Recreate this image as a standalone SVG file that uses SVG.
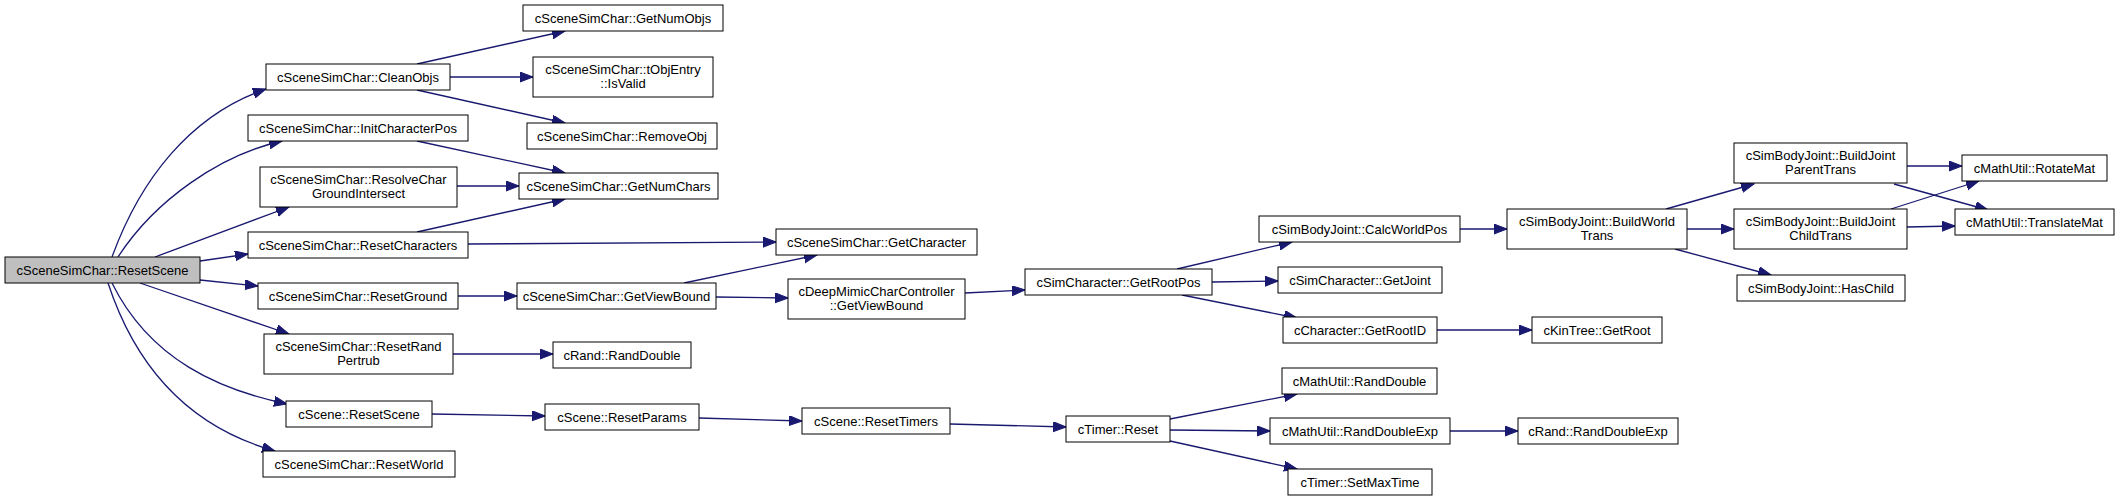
<svg xmlns="http://www.w3.org/2000/svg" width="2123" height="501" viewBox="0 0 2123 501">
<style>
.n rect{fill:#fff;stroke:#000;stroke-width:1}
.root rect{fill:#bfbfbf}
text{font-family:"Liberation Sans",Arial,sans-serif;font-size:13px;fill:#000;text-anchor:middle}
.e path{fill:none;stroke:#191970;stroke-width:1.3;marker-end:url(#a)}
</style>
<defs>
<marker id="a" markerUnits="userSpaceOnUse" markerWidth="14" markerHeight="11" refX="13" refY="5" orient="auto" viewBox="0 0 14 11">
<path d="M0,0 L13,5 L0,10 z" fill="#191970" stroke="#191970" stroke-width="1"/>
</marker>
</defs>
<rect width="2123" height="501" fill="#fff"/>
<g id="edges" class="e">
<path d="M112,257 C140,180 190,115 266,89"/>
<path d="M118,257 C155,200 220,155 282,141"/>
<path d="M155,257 L289,207"/>
<path d="M200,261 L248,254"/>
<path d="M200,280 L258,286"/>
<path d="M140,283 L289,334"/>
<path d="M112,283 C150,360 220,390 287,404"/>
<path d="M108,283 C140,380 200,430 275,451"/>
<path d="M417,64 L565,31"/>
<path d="M450,77 L533,77"/>
<path d="M417,90 L565,123"/>
<path d="M417,141 L565,173"/>
<path d="M457,186 L519,186"/>
<path d="M417,232 L565,199"/>
<path d="M468,244 L776,242"/>
<path d="M458,296 L517,296"/>
<path d="M684,283 L817,255"/>
<path d="M716,297 L788,298"/>
<path d="M453,354 L553,354"/>
<path d="M432,414 L545,416"/>
<path d="M699,418 L802,421"/>
<path d="M950,424 L1066,427"/>
<path d="M965,293 L1025,290"/>
<path d="M1177,269 L1292,242"/>
<path d="M1212,282 L1278,281"/>
<path d="M1182,295 L1297,318"/>
<path d="M1437,330 L1532,330"/>
<path d="M1460,229 L1507,229"/>
<path d="M1666,209 L1754,184"/>
<path d="M1687,229 L1734,229"/>
<path d="M1675,249 L1771,275"/>
<path d="M1907,166 L1962,166"/>
<path d="M1894,184 L1988,210"/>
<path d="M1891,209 L1979,181"/>
<path d="M1907,227 L1955,226"/>
<path d="M1170,419 L1297,394"/>
<path d="M1170,430 L1270,431"/>
<path d="M1170,441 L1297,469"/>
<path d="M1450,431 L1518,431"/>
</g>
<g id="n_root" class="n root"><rect x="5" y="257" width="195" height="26"/><text x="102.5" y="274.5">cSceneSimChar::ResetScene</text></g>
<g id="n_cleanobjs" class="n"><rect x="266" y="64" width="184" height="26"/><text x="358" y="81.5">cSceneSimChar::CleanObjs</text></g>
<g id="n_initcharpos" class="n"><rect x="248" y="115" width="220" height="26"/><text x="358" y="132.5">cSceneSimChar::InitCharacterPos</text></g>
<g id="n_resolvechar" class="n"><rect x="260" y="167" width="197" height="40"/><text x="358.5" y="183.5">cSceneSimChar::ResolveChar</text><text x="358.5" y="197.5">GroundIntersect</text></g>
<g id="n_resetchars" class="n"><rect x="248" y="232" width="220" height="26"/><text x="358" y="249.5">cSceneSimChar::ResetCharacters</text></g>
<g id="n_resetground" class="n"><rect x="258" y="283" width="200" height="26"/><text x="358" y="300.5">cSceneSimChar::ResetGround</text></g>
<g id="n_resetrand" class="n"><rect x="264" y="334" width="189" height="40"/><text x="358.5" y="350.5">cSceneSimChar::ResetRand</text><text x="358.5" y="364.5">Pertrub</text></g>
<g id="n_sceneresetscene" class="n"><rect x="286" y="401" width="146" height="26"/><text x="359" y="418.5">cScene::ResetScene</text></g>
<g id="n_resetworld" class="n"><rect x="263" y="451" width="192" height="26"/><text x="359" y="468.5">cSceneSimChar::ResetWorld</text></g>
<g id="n_getnumobjs" class="n"><rect x="523" y="5" width="200" height="26"/><text x="623" y="22.5">cSceneSimChar::GetNumObjs</text></g>
<g id="n_isvalid" class="n"><rect x="533" y="57" width="180" height="40"/><text x="623" y="73.5">cSceneSimChar::tObjEntry</text><text x="623" y="87.5">::IsValid</text></g>
<g id="n_removeobj" class="n"><rect x="527" y="123" width="190" height="26"/><text x="622" y="140.5">cSceneSimChar::RemoveObj</text></g>
<g id="n_getnumchars" class="n"><rect x="519" y="173" width="199" height="26"/><text x="618.5" y="190.5">cSceneSimChar::GetNumChars</text></g>
<g id="n_getcharacter" class="n"><rect x="776" y="229" width="201" height="26"/><text x="876.5" y="246.5">cSceneSimChar::GetCharacter</text></g>
<g id="n_getviewbound" class="n"><rect x="517" y="283" width="199" height="26"/><text x="616.5" y="300.5">cSceneSimChar::GetViewBound</text></g>
<g id="n_randdouble" class="n"><rect x="553" y="342" width="138" height="26"/><text x="622" y="359.5">cRand::RandDouble</text></g>
<g id="n_resetparams" class="n"><rect x="545" y="404" width="154" height="26"/><text x="622" y="421.5">cScene::ResetParams</text></g>
<g id="n_deepmimic" class="n"><rect x="788" y="279" width="177" height="40"/><text x="876.5" y="295.5">cDeepMimicCharController</text><text x="876.5" y="309.5">::GetViewBound</text></g>
<g id="n_resettimers" class="n"><rect x="802" y="408" width="148" height="26"/><text x="876" y="425.5">cScene::ResetTimers</text></g>
<g id="n_getrootpos" class="n"><rect x="1025" y="269" width="187" height="26"/><text x="1118.5" y="286.5">cSimCharacter::GetRootPos</text></g>
<g id="n_timerreset" class="n"><rect x="1066" y="416" width="104" height="26"/><text x="1118" y="433.5">cTimer::Reset</text></g>
<g id="n_calcworldpos" class="n"><rect x="1259" y="216" width="201" height="26"/><text x="1359.5" y="233.5">cSimBodyJoint::CalcWorldPos</text></g>
<g id="n_getjoint" class="n"><rect x="1278" y="267" width="164" height="26"/><text x="1360" y="284.5">cSimCharacter::GetJoint</text></g>
<g id="n_getrootid" class="n"><rect x="1283" y="317" width="154" height="26"/><text x="1360" y="334.5">cCharacter::GetRootID</text></g>
<g id="n_mathranddouble" class="n"><rect x="1282" y="368" width="155" height="26"/><text x="1359.5" y="385.5">cMathUtil::RandDouble</text></g>
<g id="n_randdoubleexp" class="n"><rect x="1270" y="418" width="180" height="26"/><text x="1360" y="435.5">cMathUtil::RandDoubleExp</text></g>
<g id="n_setmaxtime" class="n"><rect x="1288" y="469" width="144" height="26"/><text x="1360" y="486.5">cTimer::SetMaxTime</text></g>
<g id="n_getroot" class="n"><rect x="1532" y="317" width="130" height="26"/><text x="1597" y="334.5">cKinTree::GetRoot</text></g>
<g id="n_buildworldtrans" class="n"><rect x="1507" y="209" width="180" height="40"/><text x="1597" y="225.5">cSimBodyJoint::BuildWorld</text><text x="1597" y="239.5">Trans</text></g>
<g id="n_randranddoubleexp" class="n"><rect x="1518" y="418" width="160" height="26"/><text x="1598" y="435.5">cRand::RandDoubleExp</text></g>
<g id="n_parenttrans" class="n"><rect x="1734" y="143" width="173" height="40"/><text x="1820.5" y="159.5">cSimBodyJoint::BuildJoint</text><text x="1820.5" y="173.5">ParentTrans</text></g>
<g id="n_childtrans" class="n"><rect x="1734" y="209" width="173" height="40"/><text x="1820.5" y="225.5">cSimBodyJoint::BuildJoint</text><text x="1820.5" y="239.5">ChildTrans</text></g>
<g id="n_haschild" class="n"><rect x="1737" y="275" width="168" height="26"/><text x="1821" y="292.5">cSimBodyJoint::HasChild</text></g>
<g id="n_rotatemat" class="n"><rect x="1962" y="155" width="145" height="26"/><text x="2034.5" y="172.5">cMathUtil::RotateMat</text></g>
<g id="n_translatemat" class="n"><rect x="1955" y="209" width="159" height="26"/><text x="2034.5" y="226.5">cMathUtil::TranslateMat</text></g>
</svg>
